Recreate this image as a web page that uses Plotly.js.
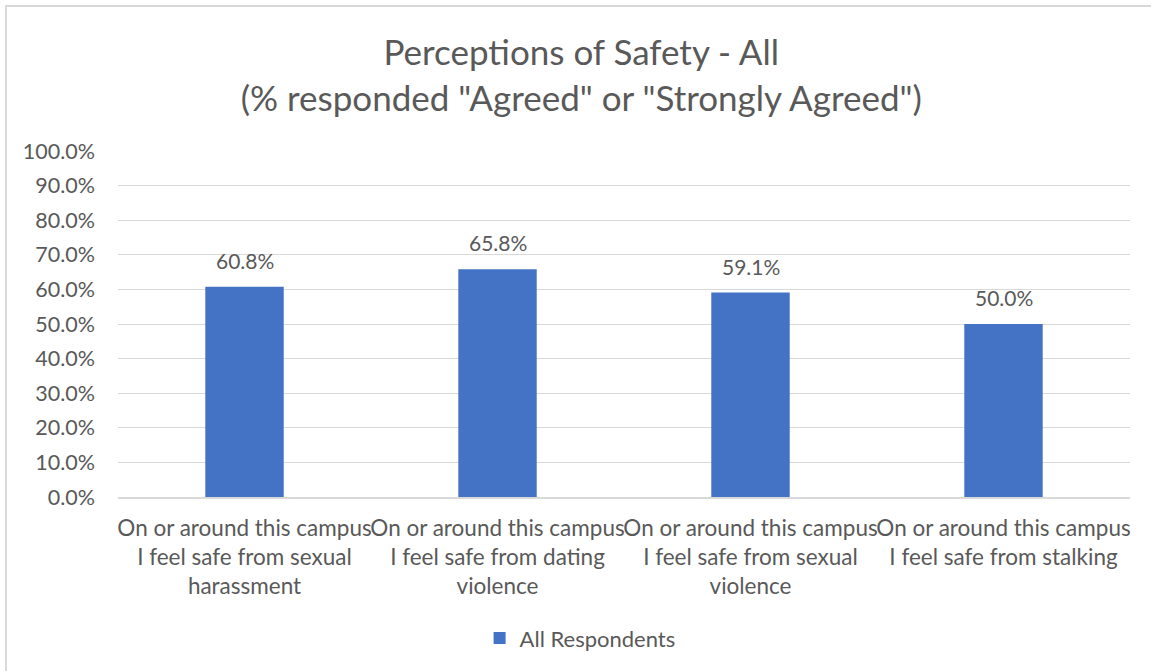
<!DOCTYPE html>
<html>
<head>
<meta charset="utf-8">
<script src="https://cdn.plot.ly/plotly-3.0.1.min.js"></script>
<style>
  html, body { margin: 0; padding: 0; background: #fff; overflow: hidden; }
  #wrap { position: relative; width: 1151px; height: 671px; }
  #chart { position: absolute; left: 0; top: 0; width: 1151px; height: 671px; }
  #frame { position: absolute; left: 5px; top: 5px; width: 1160px; height: 680px;
           border: 2px solid #d9d9d9; box-sizing: border-box; pointer-events: none; }
</style>
</head>
<body>
<div id="wrap">
  <div id="chart"></div>
  <div id="frame"></div>
</div>
<script>
const categories = [
  "On or around this campus<br>I feel safe from sexual<br>harassment",
  "On or around this campus<br>I feel safe from dating<br>violence",
  "On or around this campus<br>I feel safe from sexual<br>violence",
  "On or around this campus<br>I feel safe from stalking"
];
const seriesName = "All Respondents";
const values = [0.608, 0.658, 0.591, 0.500];
const yTickVals = [0, 0.1, 0.2, 0.3, 0.4, 0.5, 0.6, 0.7, 0.8, 0.9, 1.0];

const txt = "#595959";
const fontFam = "Lato, 'Open Sans', sans-serif";

const trace = {
  type: "bar",
  name: seriesName,
  x: categories,
  y: values,
  marker: { color: "#4472C4" },
  hoverinfo: "skip"
};

const valueLabels = categories.map((c, i) => ({
  x: c, y: values[i], xref: "x", yref: "y",
  text: (values[i] * 100).toFixed(1) + "%",
  showarrow: false,
  yanchor: "bottom",
  yshift: 12,
  font: { family: fontFam, size: 21, color: txt }
}));

const layout = {
  width: 1151,
  height: 671,
  paper_bgcolor: "#ffffff",
  plot_bgcolor: "#ffffff",
  font: { family: fontFam, color: txt },
  margin: { l: 118, r: 21, t: 151, b: 174 },
  title: {
    text: "Perceptions of Safety - All<br>(% responded \"Agreed\" or \"Strongly Agreed\")",
    font: { family: fontFam, size: 35, color: txt },
    x: 0.505, xref: "container", xanchor: "center",
    y: 0.903, yref: "container", yanchor: "middle"
  },
  bargap: 0.69,
  annotations: valueLabels,
  xaxis: {
    type: "category",
    showgrid: false,
    showline: true,
    linecolor: "#d9d9d9",
    linewidth: 1.5,
    ticks: "",
    tickangle: 0,
    tickfont: { family: fontFam, size: 22.5, color: txt },
    ticklabelstandoff: 10,
    fixedrange: true
  },
  yaxis: {
    range: [0, 1],
    tickvals: yTickVals,
    tickformat: ".1%",
    showgrid: true,
    gridcolor: "#d9d9d9",
    gridwidth: 1,
    zeroline: false,
    showline: false,
    ticks: "",
    tickfont: { family: fontFam, size: 21.5, color: txt },
    ticklabelstandoff: 22,
    fixedrange: true
  },
  showlegend: true,
  legend: {
    orientation: "h",
    xref: "container", yref: "container",
    x: 0.504, xanchor: "center",
    y: 0.049, yanchor: "middle",
    font: { family: fontFam, size: 22, color: txt },
    itemwidth: 30
  }
};

Plotly.newPlot("chart", [trace], layout, { displayModeBar: false, staticPlot: true });
</script>
</body>
</html>
